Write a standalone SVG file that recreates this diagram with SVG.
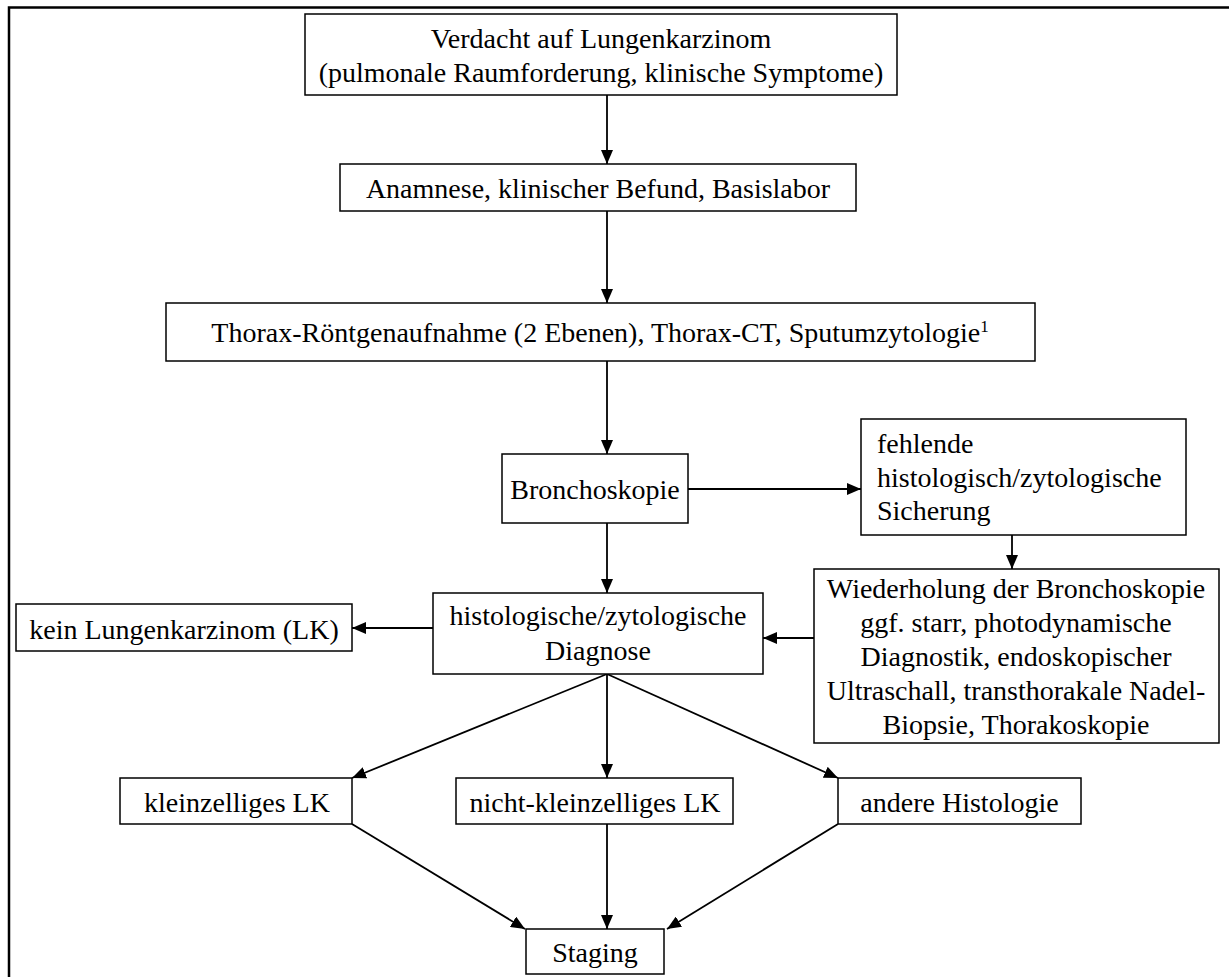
<svg xmlns="http://www.w3.org/2000/svg" width="1229" height="977" viewBox="0 0 1229 977">
<style>
.box{fill:#fff;stroke:#000;stroke-width:1.5}
.t{font-family:"Liberation Serif","Times New Roman",serif;font-size:28px;fill:#000;text-anchor:middle}
.tl{text-anchor:start}
.c{stroke:#000;stroke-width:1.8;fill:none;marker-end:url(#ah)}
.frame{stroke:#000;stroke-width:2.5;fill:none}
</style>
<defs>
<marker id="ah" markerUnits="userSpaceOnUse" markerWidth="14" markerHeight="12" viewBox="0 0 14 12" refX="14" refY="6" orient="auto">
<path d="M0,0 L14,6 L0,12 Z" fill="#000"/>
</marker>
</defs>
<rect width="1229" height="977" fill="#fff"/>
<path class="frame" d="M9,977 L9,7.5 L1229,7.5"/>
<g id="connectors">
<line class="c" x1="607" y1="95" x2="607" y2="164"/>
<line class="c" x1="607" y1="211" x2="607" y2="303"/>
<line class="c" x1="607" y1="361" x2="607" y2="454"/>
<line class="c" x1="688" y1="489" x2="861" y2="489"/>
<line class="c" x1="1012" y1="535" x2="1012" y2="569"/>
<line class="c" x1="607" y1="523" x2="607" y2="593"/>
<line class="c" x1="814" y1="638" x2="763" y2="638"/>
<line class="c" x1="433" y1="628" x2="352" y2="628"/>
<line class="c" x1="607" y1="674" x2="352" y2="778"/>
<line class="c" x1="607" y1="674" x2="607" y2="778"/>
<line class="c" x1="607" y1="674" x2="838" y2="778"/>
<line class="c" x1="352" y1="824" x2="525" y2="929"/>
<line class="c" x1="607" y1="824" x2="607" y2="929"/>
<line class="c" x1="838" y1="824" x2="667" y2="929"/>
</g>
<g id="n1">
<rect class="box" x="305" y="14" width="592" height="81"/>
<text class="t" x="601" y="48">Verdacht auf Lungenkarzinom</text>
<text class="t" x="601" y="82">(pulmonale Raumforderung, klinische Symptome)</text>
</g>
<g id="n2">
<rect class="box" x="340" y="164" width="516" height="47"/>
<text class="t" x="598" y="198">Anamnese, klinischer Befund, Basislabor</text>
</g>
<g id="n3">
<rect class="box" x="166" y="303" width="869" height="58"/>
<text class="t" x="600" y="342">Thorax-Röntgenaufnahme (2 Ebenen), Thorax-CT, Sputumzytologie<tspan font-size="17" dy="-10">1</tspan></text>
</g>
<g id="n4">
<rect class="box" x="502" y="454" width="186" height="69"/>
<text class="t" x="595" y="499">Bronchoskopie</text>
</g>
<g id="n5">
<rect class="box" x="861" y="419" width="325" height="116"/>
<text class="t tl" x="877" y="453">fehlende</text>
<text class="t tl" x="877" y="487">histologisch/zytologische</text>
<text class="t tl" x="877" y="520">Sicherung</text>
</g>
<g id="n6">
<rect class="box" x="814" y="569" width="405" height="174"/>
<text class="t" x="1016" y="598">Wiederholung der Bronchoskopie</text>
<text class="t" x="1016" y="632">ggf. starr, photodynamische</text>
<text class="t" x="1016" y="666">Diagnostik, endoskopischer</text>
<text class="t" x="1016" y="700">Ultraschall, transthorakale Nadel-</text>
<text class="t" x="1016" y="734">Biopsie, Thorakoskopie</text>
</g>
<g id="n7">
<rect class="box" x="433" y="593" width="330" height="81"/>
<text class="t" x="598" y="625">histologische/zytologische</text>
<text class="t" x="598" y="660">Diagnose</text>
</g>
<g id="n8">
<rect class="box" x="16" y="604" width="336" height="47"/>
<text class="t" x="184" y="639">kein Lungenkarzinom (LK)</text>
</g>
<g id="n9">
<rect class="box" x="120" y="778" width="232" height="46"/>
<text class="t" x="237" y="812">kleinzelliges LK</text>
</g>
<g id="n10">
<rect class="box" x="456" y="778" width="277" height="46"/>
<text class="t" x="595" y="812">nicht-kleinzelliges LK</text>
</g>
<g id="n11">
<rect class="box" x="838" y="778" width="243" height="46"/>
<text class="t" x="959.5" y="812">andere Histologie</text>
</g>
<g id="n12">
<rect class="box" x="526" y="929" width="138" height="45"/>
<text class="t" x="595" y="962">Staging</text>
</g>
</svg>
